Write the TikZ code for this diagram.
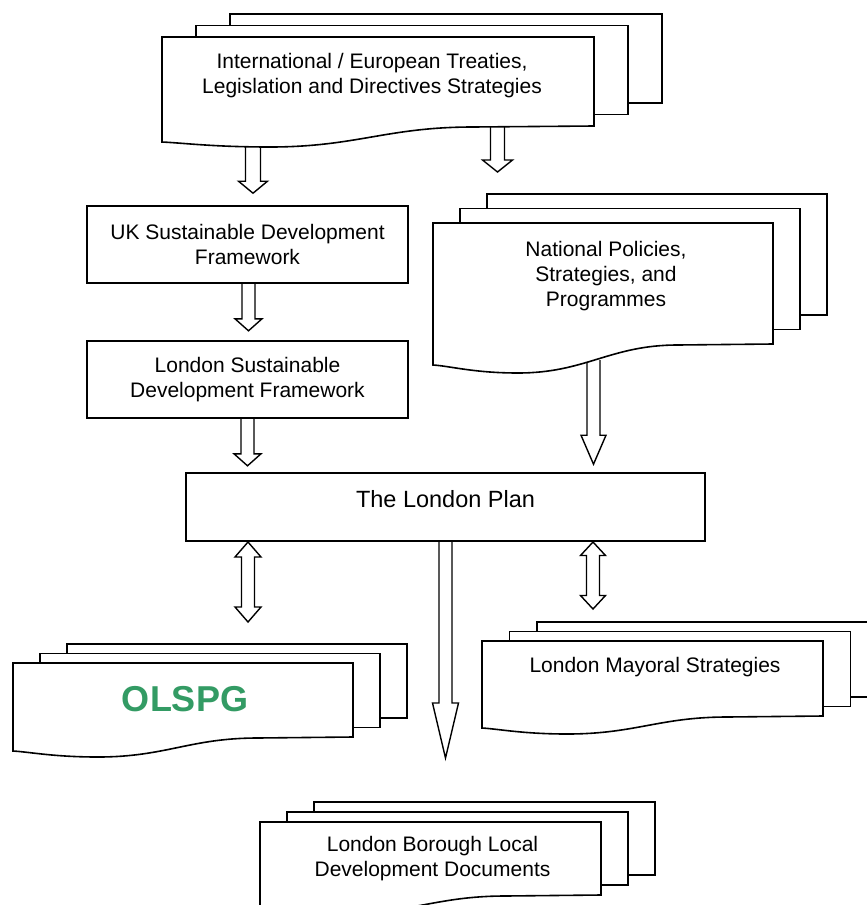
\documentclass[tikz,border=0pt]{standalone}
\usepackage{fontspec}
\setmainfont{Liberation Sans}
\usepackage{tikz}
\usetikzlibrary{calc, backgrounds}

\definecolor{olspggreen}{RGB}{51,155,100}

\tikzset{
	page/.style={draw=black, fill=white, line width=1.6pt, line join=miter},
	box/.style={draw=black, fill=white, line width=1.6pt, rectangle, align=center, font=\fontsize{21}{25}\selectfont},
	doctext/.style={align=center, font=\fontsize{21}{25}\selectfont},
	blockarrow/.style={draw=black, fill=white, line width=1.4pt, line join=miter}
}

% stack of three pages: name, left, top, right, bottom right, bottom left, dip, dx, dy
\newcommand{\docstack}[9]{
	\pgfmathsetmacro{\docw}{#4-#2}
	\draw[page] ({#2+2*#8},{#3-2*#9}) rectangle ({#4+2*#8},{#5-2*#9});
	\draw[page] ({#2+#8},{#3-#9}) rectangle ({#4+#8},{#5-#9});
	\draw[page] (#2,#3) -- (#4,#3) -- (#4,#5) -- ({#2+0.72*\docw},{#5+1})
		.. controls ({#2+0.52*\docw},{#5+1}) and ({#2+0.45*\docw},{#6+#7}) .. ({#2+0.25*\docw},{#6+#7})
		.. controls ({#2+0.12*\docw},{#6+#7}) and ({#2+0.05*\docw},{#6+1}) .. (#2,#6) -- cycle;
	\coordinate (#1) at ({#2+0.5*\docw},#3);
}

% hollow arrow pointing down: from, to, half shaft, half head, head length
\newcommand{\hollowarrow}[5]{
	\draw[blockarrow] ($(#1)+(-#3,0)$) -- ($(#2)+(-#3,-#5)$) -- ($(#2)+(-#4,-#5)$) -- (#2)
		-- ($(#2)+(#4,-#5)$) -- ($(#2)+(#3,-#5)$) -- ($(#1)+(#3,0)$);
}

% hollow arrow with two heads: top, bottom, half shaft, half head, head length
\newcommand{\hollowdouble}[5]{
	\draw[blockarrow] (#1) -- ($(#1)+(#4,#5)$) -- ($(#1)+(#3,#5)$) -- ($(#2)+(#3,-#5)$) -- ($(#2)+(#4,-#5)$)
		-- (#2) -- ($(#2)+(-#4,-#5)$) -- ($(#2)+(-#3,-#5)$) -- ($(#1)+(-#3,#5)$) -- ($(#1)+(-#4,#5)$) -- cycle;
}

\begin{document}
\begin{tikzpicture}[x=1pt, y=-1pt]
	\useasboundingbox (0,0) rectangle (867,905);
	\clip (0,0) rectangle (867,905);

	% documents
	\docstack{intl}{162}{37}{594}{126}{142}{5}{34}{11.5}
	\docstack{natl}{433}{223}{773}{344}{365}{8}{27}{14.5}
	\docstack{olspg}{13}{663}{353}{737}{751}{6}{27}{9.5}
	\docstack{mayor}{482}{641}{823}{716}{728}{6}{27.5}{9.5}
	\docstack{borough}{260}{822}{601}{895}{907}{6}{27}{10}

	\node[doctext] (intltext) at (372,75.5) {International / European Treaties,\\Legislation and Directives Strategies};
	\node[doctext] (natltext) at (606,276) {National Policies,\\Strategies, and\\Programmes};
	\node[font=\fontsize{36}{40}\selectfont\bfseries, text=olspggreen] (olspgtext) at (185,699) {OLSPG};
	\node[doctext] (mayortext) at (655,667) {London Mayoral Strategies};
	\node[doctext] (boroughtext) at (432.5,859) {London Borough Local\\Development Documents};

	% boxes
	\node[box, minimum width=321pt, minimum height=77pt] (uk) at (247.5,244.5) {UK Sustainable Development\\Framework};
	\node[box, minimum width=321pt, minimum height=77pt] (lsdf) at (247.5,379.5) {London Sustainable\\Development Framework};
	\node[box, minimum width=519pt, minimum height=68pt] (plan) at (445.5,507) {};
	\node[font=\fontsize{23.5}{27}\selectfont] (plantext) at ($(plan.center)+(0,-8)$) {The London Plan};

	% connectors
	\coordinate (intl-uk) at (253,140);
	\coordinate (intl-natl) at (497.5,120);
	\coordinate (natl-plan) at (593.5,360);
	\begin{scope}[on background layer]
		\hollowarrow{intl-uk}{$(intl-uk |- uk.north)+(0,-12)$}{7.5}{14.5}{12}
		\hollowarrow{intl-natl}{497.5,172}{7}{15}{12}
		\hollowarrow{$(uk.south)+(1,-3)$}{$(uk.south)+(1,47)$}{6.5}{13.5}{12}
		\hollowarrow{$(lsdf.south)+(0,-3)$}{$(lsdf.south)+(0,47)$}{6.5}{13.5}{12}
		\hollowarrow{natl-plan}{$(natl-plan |- plan.north)+(0,-8)$}{6.5}{12.5}{29}
		\hollowarrow{$(plan.south)+(0,-3)$}{445.5,758}{6.5}{13}{55}
		\hollowdouble{248,542}{248,622}{6.5}{13}{15}
		\hollowdouble{593,542}{593,609}{6.5}{12.5}{13.5}
	\end{scope}
\end{tikzpicture}
\end{document}
